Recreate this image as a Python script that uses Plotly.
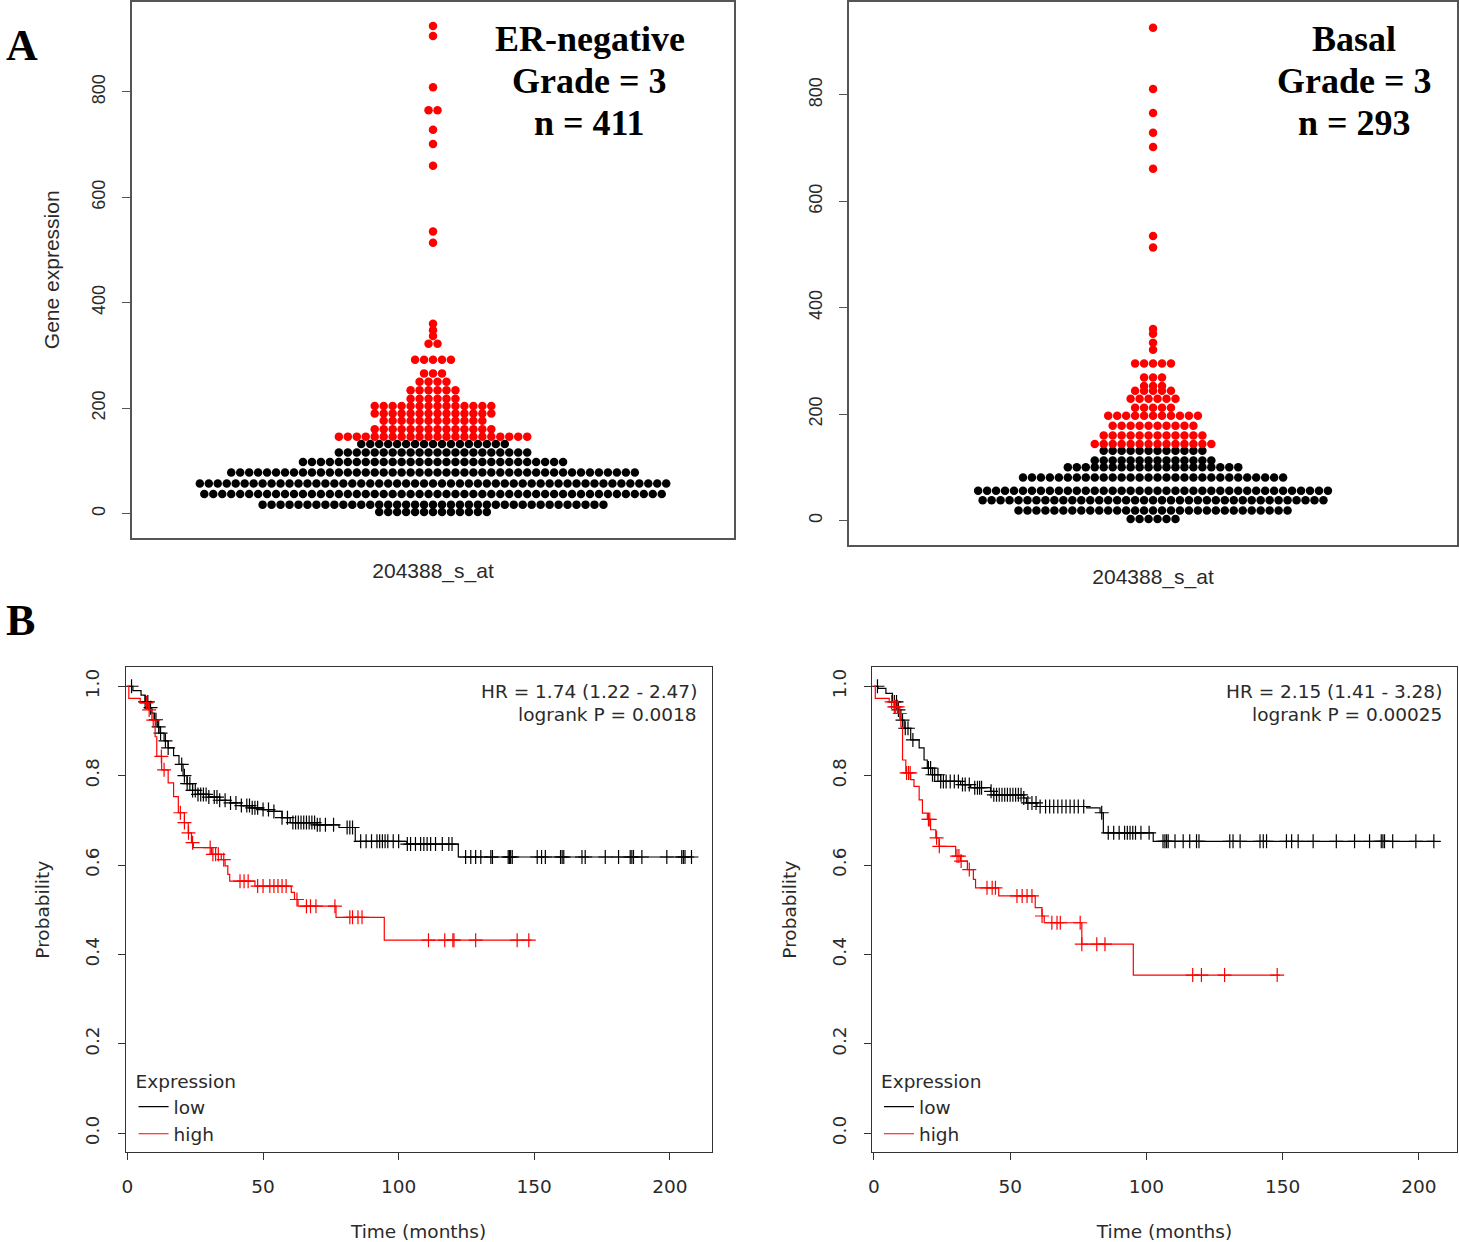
import bisect
import plotly.graph_objects as go

W, H = 1459, 1242

# ---------------- Data: beeswarm (expression level rows and number of samples) ----------------
ern_low_levels = [3, 17, 37, 57, 78, 98, 116, 132]
ern_low_counts = [13, 39, 52, 53, 46, 30, 22, 17]
ern_high_levels = [146, 160, 176, 190, 204, 218, 234, 250, 266, 292, 322, 337, 348, 360,
                   514, 535, 660, 701, 728, 765, 809, 906, 925]
ern_high_counts = [22, 14, 12, 14, 14, 6, 6, 4, 3, 5, 2, 1, 1, 1,
                   1, 1, 1, 1, 1, 2, 1, 1, 1]

basal_low_levels = [3, 19, 38, 56, 81, 100, 113, 131]
basal_low_counts = [6, 31, 39, 40, 30, 20, 14, 12]
basal_high_levels = [144, 160, 178, 197, 212, 229, 244, 253, 269, 295, 321, 334, 351, 360,
                     513, 535, 661, 702, 729, 766, 811, 926]
basal_high_counts = [14, 12, 10, 11, 5, 6, 5, 3, 3, 5, 1, 1, 1, 1,
                     1, 1, 1, 1, 1, 1, 1, 1]

probe_label = "204388_s_at"
y_ticks_expr = [0, 200, 400, 600, 800]

# ---------------- Data: Kaplan-Meier curves ----------------
# ER-negative grade 3
ern_low_t = [0, 2, 5, 6.5, 8, 9, 10, 11, 12, 13.5, 15, 17, 19, 20.5, 22, 24, 26, 30, 34, 38,
             42, 46, 50, 54, 57, 60, 70, 78, 84, 103, 122]
ern_low_s = [1.0, 0.99, 0.98, 0.965, 0.952, 0.94, 0.925, 0.909, 0.895, 0.878, 0.862, 0.845,
             0.825, 0.80, 0.782, 0.767, 0.758, 0.752, 0.745, 0.739, 0.733, 0.728, 0.724, 0.72,
             0.706, 0.695, 0.69, 0.684, 0.653, 0.647, 0.618]
ern_low_end = 209
ern_low_cens = [1.5, 6.5, 7.5, 8.5, 10.5, 11.5, 12.2, 14, 15, 20, 21, 22, 23, 24, 25, 26, 27,
                28, 29, 30, 32, 33, 34, 36, 38, 40, 42, 44, 45, 46, 47, 48, 50, 52, 54, 57, 59,
                61, 62, 63, 64, 65, 66, 67, 68, 69, 70, 71, 73, 76, 81, 82, 83, 86, 88, 90, 92,
                93, 94, 95, 96, 98, 100, 103.2, 104.4, 106.2, 108.1, 109.3, 110.5, 111.8, 113.6,
                116.1, 118.5, 119.7, 124.7, 126.6, 128.4, 130.3, 134, 134.6, 140.4, 140.9, 141.3,
                141.9, 151.1, 152.7, 154.1, 159.7, 160.3, 160.9, 167.6, 168.8, 176.2, 181.1,
                185.4, 186, 186.6, 189.7, 198.9, 204.4, 205, 205.6, 208]

ern_high_t = [0, 0.5, 4.7, 7.7, 9, 10.2, 10.8, 12.6, 15, 17, 18.75, 21, 22.4, 23.6, 24.3, 31,
              34.6, 36, 37, 37.7, 47, 60.4, 61.6, 62.9, 76.9, 94.7]
ern_high_s = [1.0, 0.973, 0.963, 0.947, 0.924, 0.887, 0.843, 0.813, 0.784, 0.753, 0.717, 0.695,
              0.672, 0.65, 0.639, 0.624, 0.612, 0.598, 0.579, 0.564, 0.553, 0.539, 0.523, 0.508,
              0.483, 0.432]
ern_high_end = 149
ern_high_cens = [7, 8, 9.5, 12.5, 13.5, 19.5, 21, 22.5, 24, 30.5, 31.5, 32.5, 33.5, 35.5, 41.5,
                 43, 44.5, 48, 50, 52.5, 54, 55.5, 57, 58.5, 62.5, 66, 67.5, 69.5, 76.5, 82, 83,
                 85, 86.5, 111, 117, 120, 120.4, 128.4, 143.7, 148]

# Basal grade 3
bas_low_t = [0, 1.5, 4.4, 6.8, 8.7, 9.9, 11.1, 13.5, 16.6, 18.4, 19.6, 21.5, 24.5, 31.8, 35.5,
             42.8, 44, 54.9, 56, 59.8, 78.1, 83, 84.2, 102.5]
bas_low_s = [1.0, 0.995, 0.984, 0.965, 0.947, 0.924, 0.906, 0.88, 0.862, 0.835, 0.817, 0.802,
             0.787, 0.78, 0.773, 0.765, 0.757, 0.75, 0.739, 0.731, 0.728, 0.717, 0.672, 0.653]
bas_low_end = 206
bas_low_cens = [1.3, 7.5, 8.3, 9, 10.5, 11.5, 12.5, 14.3, 20, 20.8, 21.5, 22.3, 23.5, 24.5, 25.5,
                26.5, 28, 29.5, 31, 32.5, 33.5, 35, 37, 38, 38.8, 39.5, 43, 44, 45, 46, 47, 48,
                49, 50, 51, 52, 53, 54, 55, 56.5, 58, 59.5, 61, 63, 64.5, 66, 67.5, 69, 70.5,
                72, 73.5, 75, 77, 83.6, 86, 88, 90, 92, 93, 94, 95, 96, 98, 101, 106.1, 106.8,
                107.4, 108, 110.5, 113.5, 115.9, 118.4, 119.3, 130.6, 131.8, 134.4, 141.7, 142.9,
                144.1, 151.4, 153.3, 155.7, 161.2, 169.7, 176.4, 181.9, 186.2, 186.8, 187.4,
                190.4, 198.9, 205.5]

bas_high_t = [0, 0.5, 5.6, 7.4, 9.2, 9.9, 10.5, 11.7, 13.5, 14.7, 16.6, 17.8, 19.6, 20.8, 22.7,
              23.9, 30, 31.8, 34.3, 36.5, 37.3, 45.8, 59.2, 61.7, 62.5, 76.3, 95.2]
bas_high_s = [1.0, 0.973, 0.965, 0.954, 0.939, 0.909, 0.835, 0.806, 0.791, 0.776, 0.746, 0.716,
              0.702, 0.679, 0.661, 0.642, 0.62, 0.609, 0.59, 0.568, 0.549, 0.531, 0.505, 0.486,
              0.471, 0.423, 0.354]
bas_high_end = 149
bas_high_cens = [6.5, 7.5, 8, 8.7, 9.5, 12, 12.7, 13.3, 20, 20.5, 23, 24, 30.5, 31.2, 32, 35,
                 41.5, 43.4, 44.6, 52.5, 54.4, 56.2, 58, 61.7, 65.3, 67.2, 68.4, 75.7, 76.3,
                 81.8, 84.8, 117, 120.2, 128.7, 148]

hr_text_ern = ["HR = 1.74 (1.22 - 2.47)", "logrank P = 0.0018"]
hr_text_bas = ["HR = 2.15 (1.41 - 3.28)", "logrank P = 0.00025"]
x_ticks_time = [0, 50, 100, 150, 200]
y_ticks_prob = [0.0, 0.2, 0.4, 0.6, 0.8, 1.0]

# ---------------- Styling ----------------
BLACK = "#000000"
RED = "#ff0000"
TXT = "#2a2a2a"
SANS_R = "Liberation Sans, Arial, sans-serif"
SANS_D = "DejaVu Sans, sans-serif"
SERIF = "Liberation Serif, Times New Roman, serif"
DOT_GAP = 9.0  # px between neighbouring dots in a swarm row


def swarm(levels, counts):
    xs, ys = [], []
    for v, n in zip(levels, counts):
        for i in range(n):
            xs.append((i - (n - 1) / 2.0) * DOT_GAP)
            ys.append(v)
    return xs, ys


def surv_at(times, surv, t):
    return surv[bisect.bisect_right(times, t) - 1]


def px_dom_x(a, b):
    return [a / W, b / W]


def px_dom_y(top, bottom):
    return [1 - bottom / H, 1 - top / H]


fig = go.Figure()

# ---------------- Beeswarm panels ----------------
swarm_panels = [
    ("x", "y", ern_low_levels, ern_low_counts, ern_high_levels, ern_high_counts),
    ("x2", "y2", basal_low_levels, basal_low_counts, basal_high_levels, basal_high_counts),
]
for xa, ya, ll, lc, hl, hc in swarm_panels:
    for lev, cnt, col in ((ll, lc, BLACK), (hl, hc, RED)):
        sx, sy = swarm(lev, cnt)
        fig.add_trace(go.Scatter(x=sx, y=sy, mode="markers", xaxis=xa, yaxis=ya,
                                 marker=dict(size=8.5, color=col, line=dict(width=0)),
                                 showlegend=False, hoverinfo="y"))

# ---------------- Kaplan-Meier panels ----------------
km_panels = [
    ("x3", "y3", "legend",
     (ern_low_t, ern_low_s, ern_low_end, ern_low_cens),
     (ern_high_t, ern_high_s, ern_high_end, ern_high_cens)),
    ("x4", "y4", "legend2",
     (bas_low_t, bas_low_s, bas_low_end, bas_low_cens),
     (bas_high_t, bas_high_s, bas_high_end, bas_high_cens)),
]
for xa, ya, lg, low, high in km_panels:
    for (tt, ss, tend, cens), name, col in ((low, "low", BLACK), (high, "high", RED)):
        fig.add_trace(go.Scatter(x=tt + [tend], y=ss + [ss[-1]], mode="lines",
                                 line=dict(color=col, width=1.2, shape="hv"),
                                 name=name, legend=lg, xaxis=xa, yaxis=ya))
        fig.add_trace(go.Scatter(x=cens, y=[surv_at(tt, ss, c) for c in cens], mode="markers",
                                 marker=dict(symbol="cross-thin", size=10,
                                             line=dict(color=col, width=1.2)),
                                 showlegend=False, xaxis=xa, yaxis=ya, hoverinfo="x+y"))

# ---------------- Axes ----------------
box_top = dict(showline=True, mirror=True, linecolor="#555555", linewidth=1.5, zeroline=False,
               showgrid=False)
box_km = dict(showline=True, mirror=True, linecolor="#333333", linewidth=1, zeroline=False,
              showgrid=False)

fig.update_layout(
    xaxis=dict(domain=px_dom_x(128, 733), anchor="y", range=[-302.5, 302.5],
               showticklabels=False, ticks="", **box_top,
               title=dict(text=probe_label, standoff=25,
                          font=dict(family=SANS_R, size=21, color=TXT))),
    yaxis=dict(domain=px_dom_y(1, 537), anchor="x", range=[-45.5, 970.6],
               tickvals=y_ticks_expr, ticks="outside", ticklen=8, tickcolor="#555555",
               tickangle=-90, ticklabelstandoff=10,
               tickfont=dict(family=SANS_R, size=18, color=TXT), **box_top,
               title=dict(text="Gene expression", standoff=23,
                          font=dict(family=SANS_R, size=21, color=TXT))),
    xaxis2=dict(domain=px_dom_x(848, 1458), anchor="y2", range=[-305, 305],
                showticklabels=False, ticks="", **box_top,
                title=dict(text=probe_label, standoff=24,
                           font=dict(family=SANS_R, size=21, color=TXT))),
    yaxis2=dict(domain=px_dom_y(1, 544), anchor="x2", range=[-45.1, 974.6],
                tickvals=y_ticks_expr, ticks="outside", ticklen=8, tickcolor="#555555",
                tickangle=-90, ticklabelstandoff=10,
                tickfont=dict(family=SANS_R, size=18, color=TXT), **box_top),
    xaxis3=dict(domain=px_dom_x(122, 710), anchor="y3", range=[-0.7, 215.4],
                tickvals=x_ticks_time, ticks="outside", ticklen=7, tickcolor="#333333",
                ticklabelstandoff=11, tickfont=dict(family=SANS_D, size=18.5, color=TXT),
                **box_km,
                title=dict(text="Time (months)", standoff=29,
                           font=dict(family=SANS_D, size=18.5, color=TXT))),
    yaxis3=dict(domain=px_dom_y(667, 1152), anchor="x3", range=[-0.042, 1.042],
                tickvals=y_ticks_prob, ticktext=[f"{v:.1f}" for v in y_ticks_prob],
                ticks="outside", ticklen=7, tickcolor="#333333", tickangle=-90,
                ticklabelstandoff=11, tickfont=dict(family=SANS_D, size=18.5, color=TXT),
                **box_km,
                title=dict(text="Probability", standoff=27,
                           font=dict(family=SANS_D, size=18.5, color=TXT))),
    xaxis4=dict(domain=px_dom_x(871, 1458), anchor="y4", range=[-0.7, 214.0],
                tickvals=x_ticks_time, ticks="outside", ticklen=7, tickcolor="#333333",
                ticklabelstandoff=11, tickfont=dict(family=SANS_D, size=18.5, color=TXT),
                **box_km,
                title=dict(text="Time (months)", standoff=29,
                           font=dict(family=SANS_D, size=18.5, color=TXT))),
    yaxis4=dict(domain=px_dom_y(667, 1152), anchor="x4", range=[-0.042, 1.042],
                tickvals=y_ticks_prob, ticktext=[f"{v:.1f}" for v in y_ticks_prob],
                ticks="outside", ticklen=7, tickcolor="#333333", tickangle=-90,
                ticklabelstandoff=11, tickfont=dict(family=SANS_D, size=18.5, color=TXT),
                **box_km,
                title=dict(text="Probability", standoff=27,
                           font=dict(family=SANS_D, size=18.5, color=TXT))),
)

legend_common = dict(xanchor="left", yanchor="top", bgcolor="rgba(0,0,0,0)",
                     font=dict(family=SANS_D, size=18.5, color=TXT),
                     title=dict(text="Expression", font=dict(family=SANS_D, size=18.5, color=TXT)),
                     tracegroupgap=0, itemwidth=30)
fig.update_layout(
    legend=dict(x=130 / W, y=1 - 1064 / H, **legend_common),
    legend2=dict(x=878 / W, y=1 - 1064 / H, **legend_common),
)

# ---------------- Annotations ----------------
ann = []
for txt, px, py in (("A", 18, 45), ("B", 17, 620)):
    ann.append(dict(text=f"<b>{txt}</b>", x=px / W, y=1 - py / H, xref="paper", yref="paper",
                    showarrow=False, xanchor="center", yanchor="middle",
                    font=dict(family=SERIF, size=44, color=BLACK)))
for lines, cx in ((["ER-negative", "Grade = 3", "n = 411"], 588),
                  (["Basal", "Grade = 3", "n = 293"], 1355)):
    for i, line in enumerate(lines):
        ann.append(dict(text=f"<b>{line}</b>", x=cx / W, y=1 - (38 + 42 * i) / H,
                        xref="paper", yref="paper", showarrow=False, xanchor="center",
                        yanchor="middle", font=dict(family=SERIF, size=36, color=BLACK)))
for lines, rx in ((hr_text_ern, 697), (hr_text_bas, 1445)):
    for i, line in enumerate(lines):
        ann.append(dict(text=line, x=rx / W, y=1 - (691 + 23 * i) / H, xref="paper",
                        yref="paper", showarrow=False, xanchor="right", yanchor="middle",
                        font=dict(family=SANS_D, size=18.5, color=TXT)))

fig.update_layout(annotations=ann, width=W, height=H,
                  margin=dict(l=0, r=0, t=0, b=0), paper_bgcolor="white",
                  plot_bgcolor="white", hovermode="closest")

fig.write_html("out.html", config={"displayModeBar": False},
               post_script="document.body.style.margin='0px';document.body.style.overflow='hidden';")
